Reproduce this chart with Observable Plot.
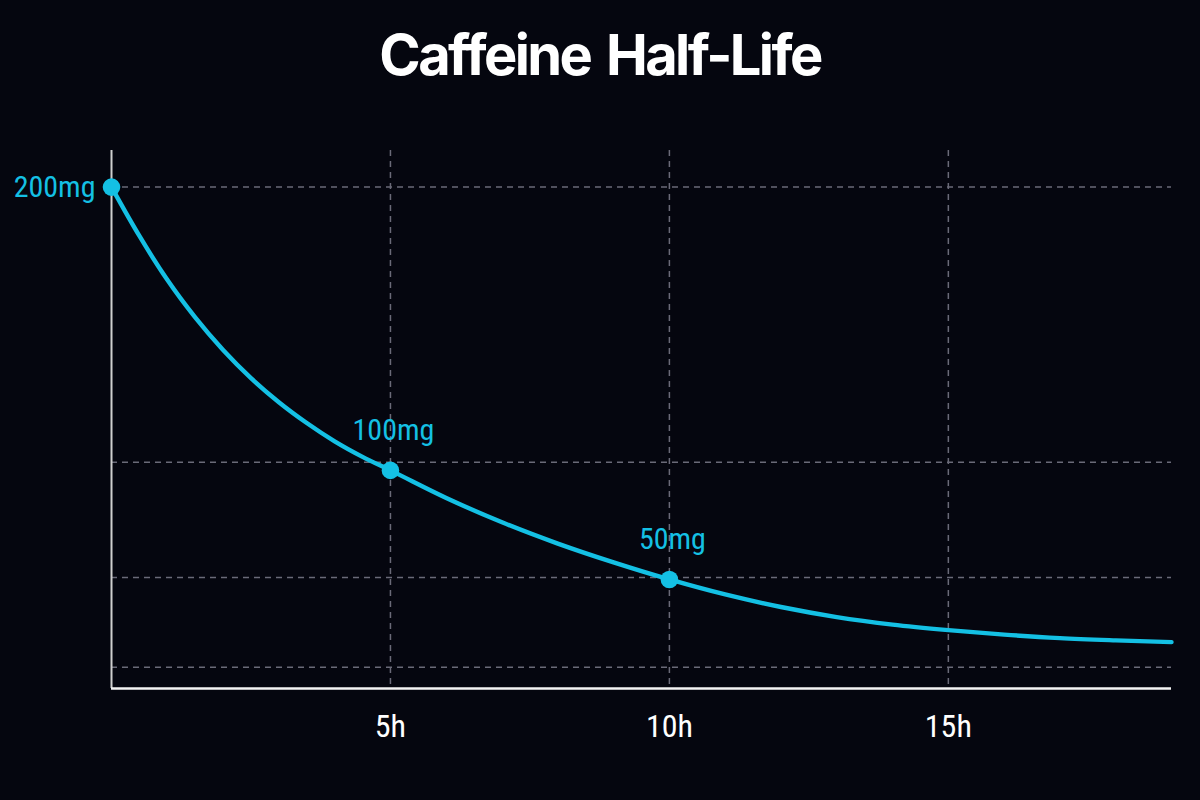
<!DOCTYPE html>
<html>
<head>
<meta charset="utf-8">
<script src="https://cdn.jsdelivr.net/npm/d3@7"></script>
<script src="https://cdn.jsdelivr.net/npm/@observablehq/plot@0.6"></script>
<style>
  html, body { margin: 0; padding: 0; background: #05060f; }
  #wrap { position: relative; width: 1200px; height: 800px; background: #05060f; overflow: hidden; }
  #title { position: absolute; left: 0; top: 0; width: 1200px; text-align: center;
           font-family: Inter, Roboto, sans-serif; font-weight: 700; font-size: 56px;
           letter-spacing: -2.6px; word-spacing: 5px; color: #ffffff; line-height: 1; padding-top: 27px; margin: 0; }
  #chart { position: absolute; left: 0; top: 0; }
</style>
</head>
<body>
<div id="wrap">
  <div id="chart"></div>
  <h1 id="title">Caffeine Half-Life</h1>
</div>
<script>
// Curve (hours since intake, amount in picture units with 0 at the x-axis)
const hours = [0, 0.5, 1, 1.5, 2, 2.5, 3, 3.5, 4, 4.5, 5, 6, 7, 8, 9, 10, 11, 12, 13, 14, 15, 16, 17, 18, 19];
const caffeineMg = [200, 180.5, 163, 148, 135, 123.8, 114.2, 105.9, 98.6, 92.4, 87.0, 76.0, 66.3, 57.8, 50.3, 43.5, 37.5, 32.5, 28.5, 25.5, 23.3, 21.5, 20.1, 19.2, 18.5];

// Highlighted points and their labels
const markerHours = [0, 5, 10];
const markerValues = [200, 87.0, 43.5];
const markerLabels = ["200mg", "100mg", "50mg"];

// Grid and ticks
const xTicks = [5, 10, 15];
const xTickLabels = ["5h", "10h", "15h"];
const yGridValues = [200, 90.2, 44.3, 8.5];

const curve = hours.map((h, i) => ({hour: h, mg: caffeineMg[i]}));
const markers = markerHours.map((h, i) => ({hour: h, mg: markerValues[i], label: markerLabels[i]}));

const CYAN = "#14c0e4";
const narrow = "'Liberation Sans Narrow', 'Roboto Condensed', 'DejaVu Sans Condensed', Roboto, sans-serif";

const chart = Plot.plot({
  width: 1200,
  height: 800,
  marginLeft: 111,
  marginRight: 29,
  marginTop: 150,
  marginBottom: 112,
  style: {background: "transparent", color: "#ffffff", fontFamily: narrow, overflow: "visible"},
  x: {domain: [0, 19], type: "linear"},
  y: {domain: [0, 214.6], type: "linear"},
  marks: [
    Plot.ruleY(yGridValues, {stroke: "#6a6a78", strokeWidth: 1.5, strokeDasharray: "6,5"}),
    Plot.ruleX(xTicks, {stroke: "#6a6a78", strokeWidth: 1.5, strokeDasharray: "6,5"}),
    Plot.ruleX([0], {stroke: "#cfcfcf", strokeWidth: 2}),
    Plot.ruleY([0], {stroke: "#f4f4f4", strokeWidth: 2.6}),
    Plot.axisX({
      ticks: xTicks,
      tickFormat: (d) => xTickLabels[xTicks.indexOf(d)],
      tickSize: 0,
      tickPadding: 26,
      fontSize: 32,
      fill: "#ffffff",
      label: null
    }),
    Plot.axisY({ticks: [], label: null}),
    Plot.line(curve, {x: "hour", y: "mg", stroke: CYAN, strokeWidth: 4.4, curve: "monotone-x"}),
    Plot.dot(markers, {x: "hour", y: "mg", r: 8.8, fill: CYAN, stroke: "none"}),
    Plot.text(markers.filter((d, i) => i === 0), {
      x: "hour", y: "mg", text: "label", textAnchor: "end", dx: -16,
      fill: CYAN, fontSize: 30, lineAnchor: "middle"
    }),
    Plot.text(markers.filter((d, i) => i > 0), {
      x: "hour", y: "mg", text: "label", textAnchor: "middle", dx: 3, dy: -40,
      fill: CYAN, fontSize: 30, lineAnchor: "middle"
    })
  ]
});
document.getElementById("chart").appendChild(chart);
</script>
</body>
</html>
